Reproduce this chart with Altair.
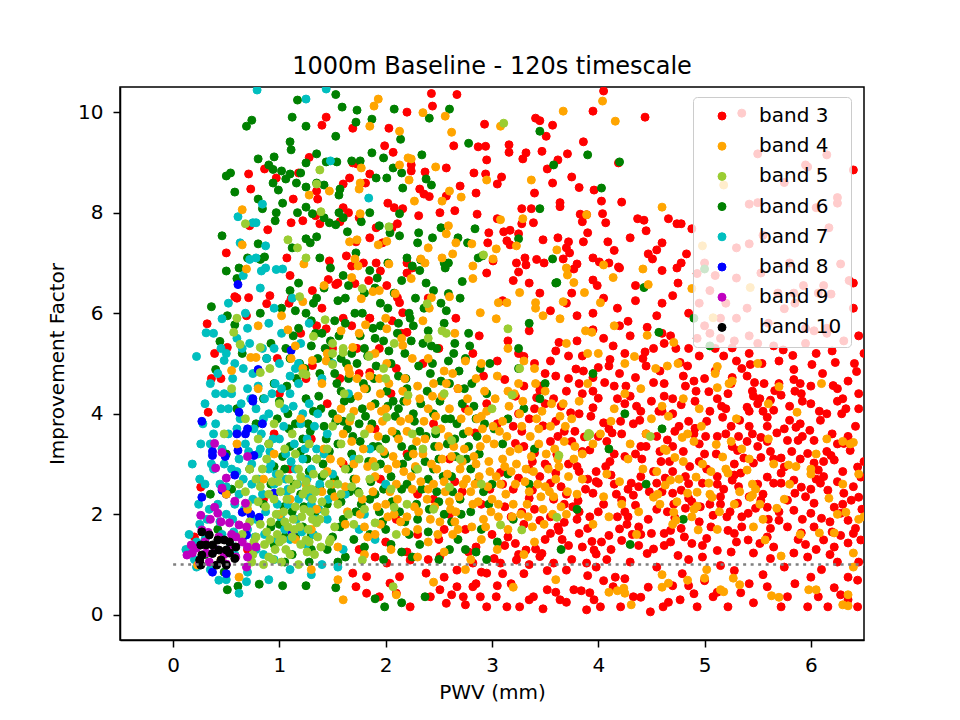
import altair as alt
import pandas as pd

# ---------------- data ----------------
band3 = [
(2.43,10.37),(2.67,10.35),(2.44,10.12),(2.20,10.0),(4.05,10.42),(3.95,10.02),(4.44,9.9),(3.41,9.88),(3.45,9.83),(3.57,9.74),
(2.93,9.76),(3.51,9.52),(3.86,9.41),(2.64,9.33),(2.87,9.31),(2.94,9.32),(2.95,9.05),(3.16,9.35),(3.16,9.2),(3.32,9.19),
(3.29,9.07),(3.47,9.22),(3.71,9.17),(3.62,9.05),(3.52,8.87),(3.75,8.71),(3.57,8.59),(3.82,8.5),(3.96,8.45),(4.19,8.99),
(2.57,8.89),(2.83,8.79),(2.94,8.77),(3.09,8.71),(3.05,8.57),(2.70,8.53),(2.85,8.39),(3.40,8.39),(2.32,8.47),(2.36,8.37),
(2.41,8.32),(2.24,8.95),(2.24,8.83),(2.37,8.81),(2.57,8.33),(2.65,8.04),(2.51,8.0),(3.11,7.62),(3.17,7.65),(3.28,8.08),
(3.37,8.08),(3.64,8.2),(3.64,8.12),(3.83,7.97),(3.85,7.82),(3.89,7.96),(4.03,8.23),(4.04,7.98),(4.07,7.8),(4.22,8.21),
(4.37,7.88),(4.43,7.85),(4.45,7.64),(4.66,7.88),(4.74,7.78),(4.78,7.78),(4.88,7.68),(4.60,7.4),(4.55,7.26),(4.47,7.18),
(4.51,7.08),(4.83,7.18),(4.78,7.0),(4.74,6.9),(4.09,7.42),(3.86,7.42),(3.72,7.42),(3.7,7.3),(3.73,7.2),(3.48,7.46),
(3.62,7.5),(3.80,6.98),(4.01,7.02),(4.1,7.0),(4.19,6.92),(3.95,6.66),(3.99,6.55),(3.77,6.88),(3.67,7.08),(3.49,7.0),
(3.42,7.07),(3.31,7.1),(3.32,6.96),(3.23,7.0),(3.25,6.82),(3.14,7.44),(3.17,7.36),(2.96,7.4),(2.97,7.6),(3.01,7.04),
(2.86,7.97),(3.39,7.8),(3.28,7.78),(3.25,7.58),(3.05,7.88),(2.31,7.94),(2.08,8.1),(2.06,7.7),
(0.71,8.77),(0.73,8.47),(0.50,7.2),(0.32,5.79),(0.39,5.2),(0.36,4.7),(0.6,6.3),(0.89,7.66),(0.71,6.31),(1.1,6.75),
(1.07,7.1),(1.11,7.8),(1.22,7.84),(1.13,8.27),(1.28,9.1),(1.18,8.79),(0.97,8.69),(0.86,8.87),(1.44,9.9),(1.4,9.74),
(1.69,9.68),(2.03,9.68),(1.99,9.33),(2.07,9.2),(1.69,8.99),(1.73,8.97),(1.85,8.77),(1.66,8.69),(1.6,8.57),(1.81,8.59),
(1.35,8.43),(1.36,8.27),(1.38,7.78),(1.34,7.94),(1.57,7.82),(1.6,8.1),(1.65,8.0),(1.75,7.9),(2.02,8.19),(2.16,8.08),
(2.11,7.78),(1.91,7.7),(1.85,7.5),(1.97,7.4),(1.72,7.42),(1.47,7.04),(1.63,7.14),(1.68,6.94),(1.79,7.0),(1.91,7.0),
(1.95,6.84),(2.2,7.0),(2.2,6.8),(2.01,6.55),(2.11,6.31),(1.84,6.65),(1.31,6.45),(1.46,6.67),(1.53,6.57),(1.71,6.59),
(1.11,6.29),(1.09,6.2),(0.88,6.19),(0.91,6.35),(0.58,6.33),(0.69,5.95),(0.51,5.32),(0.72,7.74),(1.35,5.75),(1.44,5.69),
(1.6,5.9),(1.68,5.75),(1.85,5.9),(2.06,5.85),(2.13,6.21),(2.16,6.01),(2.2,5.62),(1.73,5.3),(1.94,5.3),(1.31,4.96),
(1.57,4.7),(1.85,4.82),(2.1,4.9),
(0.33,4.03),(0.26,2.54),(0.2,1.55),(0.45,4.7),(0.85,2.3),(0.98,5.1),(0.7,1.3),
(1.3,3.5),(1.45,4.2),(1.6,3.0),(1.75,4.8),(1.9,3.7),(2.05,4.4),(2.2,3.2),(2.35,5.0),(1.5,5.3),(1.25,4.7),
(1.65,2.5),(1.95,2.7),(2.3,2.4),(2.45,3.8),(2.15,5.6),(1.85,5.9),(1.4,6.1),(2.4,6.3),(2.25,6.9),(1.2,5.6),
(1.0,4.4),(0.95,3.6),(1.1,2.9),(1.55,6.6),
(3.02,1.12),(3.15,1.55),(3.28,2.04),(3.41,1.31),(3.55,2.62),(3.68,1.84),(3.81,2.27),(3.94,1.46),(4.07,2.95),(4.2,1.71),
(4.33,2.38),(4.46,1.22),(4.59,3.05),(4.72,1.93),(4.85,2.61),(4.98,1.38),(5.11,3.2),(5.24,2.05),
(3.08,2.83),(3.22,3.41),(3.35,2.9),(3.48,3.76),(3.61,3.19),(3.74,4.02),(3.87,3.54),(4.0,4.31),(4.13,3.62),(4.26,4.55),
(4.39,3.87),(4.52,4.62),(4.65,3.48),(4.78,4.18),(4.91,3.71),(5.04,4.44),(5.17,3.93),
(2.95,4.2),(3.12,4.68),(3.3,5.14),(3.45,4.47),(3.63,5.42),(3.79,4.89),(3.95,5.67),(4.11,5.08),(4.28,5.84),(4.44,5.23),
(4.6,5.6),(4.77,5.02),(4.93,5.5),(5.1,4.85),(5.26,5.31),
(2.6,3.1),(2.72,2.45),(2.84,3.62),(2.68,4.5),(2.55,1.7),(2.78,1.25),(2.9,0.85),(2.5,5.3),(2.66,5.9),(2.88,5.55),
(3.18,0.62),(3.52,0.88),(3.84,0.48),(4.16,0.75),(4.47,0.55),(4.79,0.82),(5.12,0.45),(2.62,0.4),(3.35,0.3),(3.98,0.95),
(4.66,0.25),(5.0,0.68),
(3.9,2.7),(4.05,2.2),(4.25,3.15),(4.4,2.75),(4.55,2.1),(4.7,2.85),(4.88,2.25),(5.02,2.9),(5.18,2.5),(3.72,3.0),
(3.58,2.3),(3.45,2.75),(4.12,1.3),(4.4,1.6),(4.68,1.45),(4.95,1.85),(3.66,1.5),(3.92,1.95),(4.28,1.95),(4.6,2.45),
(4.8,3.25),(4.45,3.35),(4.15,2.6),(3.85,3.25),(4.0,3.55),(4.33,3.8),(4.7,4.0),(4.95,3.4),(5.2,3.6),(3.3,1.8),
(3.5,1.5),(3.2,2.5),(3.75,1.1),(4.3,1.05),(4.85,1.1),(5.25,1.25),(3.05,3.8),(3.4,4.1),(3.6,3.85),(3.85,4.4),
(4.1,4.95),(4.5,4.25),(4.9,4.65),(5.25,4.6),(3.6,4.75),(3.35,5.65),(3.55,6.05),(3.8,5.95),(4.05,6.3),(4.35,6.55),
(4.6,6.2),(4.85,6.0),(5.15,5.9),(3.1,6.25),(3.35,6.6),(4.2,6.9),(4.75,6.6),(5.05,6.45),(5.3,6.7),(3.75,6.4),(3.95,7.1),
(3.82,1.62),(3.88,2.5),(3.93,3.95),(3.98,2.85),(4.03,1.45),(4.06,4.62),(4.11,3.05),(4.17,2.4),(4.21,3.85),(4.27,1.8),
(4.31,2.62),(4.36,4.15),(4.41,3.1),(4.47,1.9),(4.52,2.85),(4.57,4.05),(4.62,1.62),(4.67,3.05),(4.71,2.2),(4.76,3.75),
(4.81,1.55),(4.86,2.95),(4.91,4.25),(4.96,2.15),(5.01,3.55),(5.06,1.75),(5.12,2.75),(5.16,4.15),(5.21,1.95),(5.26,3.35),
(3.86,4.85),(4.14,5.35),(4.46,5.72),(4.73,5.3),(5.0,5.75),(3.72,5.15),(4.3,5.55),(4.58,4.85),(4.84,4.95),(5.18,5.15),
(3.76,2.15),(3.68,3.65),(3.58,4.3),(3.55,1.95),(3.45,4.55),(3.38,3.05),(3.28,3.65),(3.22,4.35),(3.12,2.15),(3.05,5.05),
(2.98,2.5),(2.92,4.75),(2.82,5.2),(2.75,4.1),(2.65,2.65),
(3.12,1.38),(3.47,1.22),(3.63,1.68),(3.98,1.21),(4.22,1.48),(4.52,1.31),(4.75,1.18),(5.02,1.52),(5.3,1.45),(5.62,1.12),
(5.95,1.4),(6.28,1.58),(4.38,1.75),(4.88,1.42),(3.85,1.35),
(3.18,1.95),(3.4,2.1),(3.62,1.75),(3.7,2.4),(4.0,2.05),(4.18,1.95),(4.35,2.18),(4.5,1.62),(4.65,2.05),(4.82,2.12),
(5.15,2.2),(5.35,1.95),(5.7,1.88),(6.1,1.92),(6.42,1.72),(5.08,1.98),
(3.25,2.72),(3.52,2.95),(3.65,2.55),(3.95,2.42),(4.12,2.78),(4.28,2.5),(4.48,2.45),(4.63,2.72),(4.78,2.48),(4.98,2.62),
(5.15,2.35),(5.32,2.55),(5.55,2.4),(5.72,2.62),(5.95,2.35),(6.12,2.75),(6.4,2.55),(3.82,2.85),
(3.3,3.35),(3.55,3.45),(3.78,3.65),(3.92,3.28),(4.08,3.45),(4.22,3.6),(4.35,3.2),(4.55,3.55),(4.7,3.35),(4.85,3.85),
(5.0,3.2),(5.12,3.55),(5.28,3.0),(5.5,3.35),(5.68,3.62),(5.9,3.1),(6.15,3.25),(6.42,3.75),
(3.25,4.0),(3.5,4.2),(3.7,4.45),(3.95,4.12),(4.18,4.3),(4.4,4.05),(4.62,4.35),(4.82,4.55),(5.05,4.05),(5.22,4.4),
(5.45,4.45),(5.8,4.15),(6.0,4.55),(6.3,4.3),
(3.4,5.0),(3.6,5.25),(3.85,5.15),(4.05,5.5),(4.25,5.2),(4.45,4.95),(4.68,5.55),(4.95,5.15),(5.15,5.5),(3.15,5.45),
(3.95,4.72),(4.35,4.72),
(3.3,0.82),(3.7,0.25),(4.05,0.68),(4.4,0.35),(4.7,0.58),(4.9,0.42),(5.28,0.88),(5.55,0.8),(5.85,0.62),(6.1,0.9),
(2.55,0.75),(2.85,0.62),(3.05,0.58),
(4.3,7.5),(4.15,7.25),(3.9,7.6),(4.6,6.85),(4.35,6.25),(3.95,6.0),(3.7,6.2),(3.45,6.4),(3.2,6.65),(2.95,6.8),
(4.7,6.35),(5.0,7.0),(5.2,6.2),(5.1,6.75),
(3.35,1.0),(3.9,0.78),(4.55,0.95),(5.15,0.98),(5.75,0.95),(6.25,1.05),
(3.22,1.42),(3.72,1.38),(4.1,1.58),(4.62,1.38),(5.12,1.28),(5.52,1.42),(6.05,1.3),(6.45,1.05),
(3.45,1.88),(3.9,1.72),(4.32,1.6),(4.78,1.72),(5.22,1.68),(5.62,1.72),(6.18,1.85),(5.92,1.9),
(3.35,2.32),(3.82,2.05),(4.22,2.28),(4.7,2.42),(5.05,2.2),(5.48,2.12),(5.85,2.42),(6.3,2.2),
(3.1,2.6),(3.6,2.82),(4.0,2.62),(4.38,2.55),(4.82,2.75),(5.28,2.78),(5.72,2.82),(6.25,2.65),
(3.4,3.22),(3.75,3.45),(4.15,3.2),(4.58,3.25),(4.95,3.05),(5.4,3.45),(5.82,3.25),(6.12,3.05),(6.5,3.05),
(3.2,3.75),(3.62,3.55),(4.05,3.82),(4.45,3.6),(4.9,3.6),(5.25,3.75),(5.75,3.7),(6.2,3.6),
(3.42,4.32),(3.82,4.0),(4.25,4.2),(4.7,4.3),(5.12,4.3),(5.55,4.05),(6.0,4.2),(6.45,4.1),
(3.3,4.55),(3.72,4.7),(4.15,4.55),(4.62,4.6),(5.0,4.7),(5.4,4.75),(5.9,4.6),(6.35,4.65),
(3.55,5.05),(4.0,4.92),(4.42,5.1),(4.85,5.3),(5.3,5.05),(5.7,5.05),(6.2,5.25),
(3.8,5.45),(4.2,5.75),(4.62,5.4),(5.05,5.6),(5.5,5.4),(5.95,5.7),
(4.18,6.1),(4.55,5.95),(4.95,6.2),(5.3,5.9),
(3.6,0.45),(4.25,0.72),(4.85,0.58),(5.42,0.62),(6.0,0.75),(6.28,0.4),(3.1,0.82),(2.75,0.2),(3.48,0.12),
(3.25,1.2),(3.55,1.62),(3.8,1.9),(4.08,1.1),(4.38,1.38),(4.68,1.68),(4.98,1.15),(5.28,1.62),(5.6,1.9),(5.88,1.5),
(6.18,1.2),(6.4,1.62),(3.38,2.48),(3.68,2.2),(3.98,2.65),(4.25,2.05),(4.55,2.62),(4.85,2.32),(5.12,2.6),(5.42,2.35),
(5.7,2.05),(6.0,2.5),(6.3,2.85),(3.5,3.0),(3.8,2.95),(4.1,3.7),(4.4,3.35),(4.72,3.65),(5.02,3.85),(5.32,3.55),
(5.62,3.25),(5.92,3.55),(6.25,3.4),(3.35,3.9),(3.65,4.15),(3.95,4.45),(4.3,4.35),(4.6,4.05),(4.92,4.45),(5.2,4.1),
(5.52,4.3),(5.85,4.45),(6.15,4.0),(6.45,4.4),(3.5,4.8),(3.82,4.6),(4.2,4.8),(4.52,5.3),(4.8,4.75),(5.1,5.3),
(5.35,4.9),(5.65,5.35),(6.05,5.2),(3.25,5.2),
(5.42,5.2),(5.43,4.98),(5.54,5.0),(5.74,5.27),(5.83,5.16),(6.01,4.98),(6.11,4.8),(6.23,5.02),(6.41,5.0),(6.43,4.84),
(5.84,4.88),(5.84,4.68),(6.21,4.56),(6.25,4.5),(5.26,4.72),(5.47,4.62),(5.56,4.6),(5.66,4.46),(5.72,4.37),(5.46,4.35),
(5.5,4.2),(5.4,4.13),(5.42,4.05),(5.62,4.27),(5.65,4.07),(5.91,4.4),(5.92,4.25),(6.08,4.05),(6.09,3.87),(6.29,4.0),
(6.33,4.1),(6.25,4.25),(5.8,3.87),(5.86,3.73),(5.59,3.93),(5.59,3.75),(5.33,3.87),(5.42,3.75),(5.53,3.53),(5.59,3.45),
(5.78,3.47),(5.88,3.47),(5.99,3.67),(6.03,3.47),(6.19,3.17),(6.22,3.08),(6.31,3.41),(6.37,3.27),(6.44,2.94),(6.47,2.74),
(5.97,3.21),(6.03,3.02),(6.07,2.88),(5.72,3.12),(5.75,2.94),(5.53,3.13),(5.46,3.02),(5.31,3.27),(5.37,3.12),(5.34,2.82),
(5.26,2.68),(5.59,2.74),(5.65,2.62),(5.84,2.68),(5.91,2.54),(6.09,2.62),(6.16,2.48),(6.31,2.42),(6.38,2.28),(6.45,2.34),
(6.22,2.14),(6.28,2.02),(6.35,1.88),(6.03,2.22),(6.0,2.02),(5.78,2.28),(5.84,2.08),(5.53,2.28),(5.59,2.14),(5.31,2.22),
(5.41,2.02),(5.78,1.75),(5.91,1.63),(6.03,1.75),(5.59,1.55),(5.65,1.35),(6.12,1.49),(6.22,1.35),(6.35,1.43),(6.47,1.49),
(5.84,1.23),(5.97,1.15),(5.41,1.49),(5.46,1.23),
(5.35,1.75),(5.5,2.6),(5.65,3.1),(5.9,3.8),(6.05,2.7),(6.2,1.65),(6.35,3.55),(6.48,2.1),(5.45,3.6),(5.7,4.6),
(5.95,5.4),(6.15,5.6),(6.4,6.1),(6.5,5.2),(5.6,5.8),(5.85,6.2),(5.4,6.1),(5.3,7.3),(5.55,7.55),(5.8,7.0),
(6.05,8.1),(6.25,8.3),(5.75,8.6),(5.95,8.95),(6.15,9.15),(6.4,8.85),(5.5,8.2),
(5.35,9.98),(5.5,9.17),(5.97,8.91),(5.42,8.17),(5.42,7.38),(4.93,6.79),(5.53,6.8),(6.25,8.19),(6.17,7.7),(6.28,6.98),
(6.36,6.65),(6.4,6.6),(5.93,6.55),(5.84,6.4),(5.69,6.4),(6.12,6.55),(6.19,6.38),(6.07,6.4),(5.75,6.09),(6.03,5.65),
(6.15,5.7),(6.31,5.45),(5.28,5.45),(5.42,5.55),(6.45,5.55),
(6.35,0.75),(6.44,0.69),(6.22,0.54),(6.07,0.36),(5.97,0.16),(6.16,0.16),(6.35,0.3),(6.44,0.16),(5.78,0.36),(5.72,0.16),
(5.59,0.56),(5.46,0.24),(5.34,0.44),(5.22,0.16),(5.08,0.36),(4.93,0.16),(4.77,0.3),(4.61,0.16),(4.49,0.06),(4.33,0.36),
(4.21,0.16),(4.02,0.16),(3.92,0.44),(4.14,0.56),
(1.72,0.56),(1.82,0.43),(1.94,0.36),(2.04,0.63),(2.1,0.43),(2.23,0.16),(2.42,0.36),(2.51,0.5),(2.57,0.23),(2.67,0.56),
(2.73,0.36),(2.82,0.56),(2.89,0.36),(2.95,0.16),(3.04,0.36),(3.14,0.16),(3.26,0.16),(3.39,0.36),(3.52,0.5),(3.64,0.3),
(3.77,0.5),(3.89,0.1),(3.96,0.3),
(1.69,0.83),(1.82,0.76),(2.01,1.03),(2.13,0.76),(2.23,1.09),(2.38,0.83),(2.51,1.16),(2.67,0.89),(2.82,1.03),(2.95,0.83),
(3.08,1.03),(3.23,1.09),(3.32,1.29),(3.45,1.16),(3.58,1.03),(3.7,0.89),(3.89,1.03),(3.96,1.29),
(2.5,1.5),(2.6,2.0),(2.75,1.7),(2.9,2.2),(3.0,1.6),(2.45,2.3),(2.85,1.35),(2.4,1.1),(2.3,1.6),(2.2,1.25),
(2.0,1.45),(2.1,1.9),(1.9,1.15),(1.75,1.3),
]

band4 = [
(2.35,9.99),(2.56,9.92),(2.62,9.6),(3.08,9.72),(3.67,10.02),(4.04,10.22),(4.16,9.82),(2.24,9.07),(2.47,8.91),(2.22,8.65),
(2.95,8.65),(3.37,8.65),(2.6,8.43),(2.71,8.31),(2.53,8.23),(2.27,8.23),(4.6,8.11),(3.89,7.96),(3.29,7.88),(3.08,7.86),
(2.59,7.74),(2.57,7.58),(2.4,7.3),(2.66,7.4),(2.81,7.38),(3.04,7.28),(3.23,7.34),(3.61,7.26),(3.7,6.9),(3.71,6.76),
(3.77,6.61),(3.87,6.41),(4.02,6.21),(4.15,5.75),(4.05,6.96),(4.14,6.71),(4.42,6.88),(4.47,6.57),(4.88,6.49),(4.46,5.56),
(4.71,5.42),(3.41,6.21),(3.41,6.1),(3.26,6.41),(3.67,6.23),(3.64,5.89),(3.48,5.95),(3.88,5.65),(3.94,5.62),(3.06,6.21),
(3.14,6.21),(3.04,5.89),(2.89,6.01),(2.82,6.94),(3.01,7.08),(2.82,6.69),(2.33,7.08),(2.37,7.0),(2.53,7.1),(2.63,7.18),
(2.6,6.33),(2.43,6.31),(2.41,6.1),(2.24,6.69),
(1.93,10.26),(1.89,10.12),(1.85,9.72),(2.13,9.62),(2.13,8.95),(2.21,9.09),(1.77,8.89),(1.76,8.59),(1.75,8.47),(1.47,8.43),
(1.28,8.35),(1.76,7.98),(1.66,7.42),(1.73,7.46),(1.93,7.36),(2.01,7.43),(2.03,6.98),(1.71,7.08),(1.74,6.94),(1.68,6.71),
(0.65,8.06),(0.65,7.36),(0.69,6.88),(1.23,6.98),(1.42,6.55),(1.88,6.43),(1.94,6.45),(1.77,6.29),(2.09,6.39),(1.02,5.95),
(1.22,6.23),(0.8,5.75),(1.08,5.67),(1.58,5.65),(1.81,5.77),(2.01,5.69),(0.73,5.12),(0.78,5.12),(0.55,4.86),(1.11,5.1),
(1.22,4.9),(1.15,5.35),(1.31,5.06),(1.45,5.2),(1.44,5.05),(1.69,5.32),(1.85,5.16),(1.94,4.7),(2.01,5.0),(1.66,4.8),
(1.73,4.7),(2.16,5.36),
(1.35,2.1),(1.42,3.3),(1.5,2.6),(1.58,4.1),(1.62,1.8),(1.7,3.0),(1.78,2.3),(1.85,3.7),(1.9,1.6),(1.95,4.4),
(2.02,2.9),(2.08,2.0),(2.12,3.5),(2.18,4.7),(2.25,2.5),(2.3,1.7),(2.35,3.2),(2.4,4.1),(2.46,2.15),(2.52,3.7),
(2.58,2.8),(2.63,1.6),(2.68,4.5),(2.74,3.3),(2.8,2.45),(2.86,3.9),(2.92,1.9),(2.97,3.05),(3.03,4.3),(3.08,2.6),
(3.14,3.55),(3.2,2.2),(3.26,4.0),(3.32,2.9),(3.38,1.75),(3.44,3.4),(3.5,2.55),(3.56,4.2),(3.62,3.1),(3.7,2.0),
(1.55,1.35),(1.8,1.2),(2.05,1.3),(2.3,1.15),(2.55,1.25),(2.8,1.1),(3.05,1.3),(3.3,1.2),
(1.4,4.6),(1.65,4.9),(1.9,5.2),(2.15,5.5),(2.4,5.1),(2.65,5.6),(2.9,5.0),(3.15,5.3),(3.4,4.9),(2.55,4.85),
(2.2,4.25),(1.75,5.6),(2.0,5.9),(2.35,5.85),(2.85,4.7),
(1.45,2.85),(1.6,3.6),(1.72,2.7),(1.88,2.45),(1.98,3.25),(2.1,2.6),(2.22,3.9),(2.28,2.95),(2.45,2.6),(2.5,3.35),
(2.6,2.25),(2.7,2.9),(2.78,3.65),(2.88,2.75),(2.95,3.5),(3.0,2.3),(3.1,3.85),(3.18,2.85),(3.25,3.3),(3.35,2.45),
(3.42,3.9),(3.48,2.1),(3.55,3.75),(3.6,2.7),(3.68,3.45),(1.3,1.7),(1.25,2.6),(1.2,3.9),(1.15,1.5),(1.1,2.3),
(1.0,2.0),(0.95,3.2),(0.85,2.7),(0.8,4.5),(0.7,2.1),(0.6,3.4),(0.5,2.4),(0.45,1.1),(0.23,0.99),(0.62,0.75),
(1.3,0.9),(1.55,0.7),
(1.52,2.35),(1.58,3.05),(1.64,2.05),(1.68,3.45),(1.74,4.35),(1.8,1.75),(1.83,2.95),(1.92,2.15),(1.97,3.85),(2.04,2.45),
(2.07,3.15),(2.14,1.85),(2.17,2.85),(2.2,3.65),(2.27,2.15),(2.33,2.65),(2.37,3.5),(2.42,1.9),(2.48,2.9),(2.53,4.35),
(2.56,2.45),(2.62,3.15),(2.66,2.05),(2.71,3.9),(2.76,2.7),(2.83,3.15),(2.87,2.25),(2.91,3.7),(2.96,2.55),(3.02,3.4),
(3.06,1.95),(3.12,2.95),(3.16,4.15),(3.22,2.6),(3.28,3.75),(3.33,2.2),(3.37,3.15),(3.43,2.6),(3.47,4.05),(3.53,2.9),
(3.58,2.35),(3.64,3.95),(3.72,2.75),(3.78,3.35),(1.95,1.8),(2.4,1.45),(2.65,1.85),(2.9,1.5),(3.15,1.7),(3.4,1.45),
(1.7,4.05),(2.0,4.1),(2.3,4.55),(2.6,4.1),(2.95,4.05),(3.25,4.6),(3.5,4.45),(1.85,4.75),(2.45,4.6),
(1.62,2.55),(1.66,3.85),(1.76,2.0),(1.79,3.3),(1.86,4.15),(1.9,2.75),(1.93,3.55),(2.0,2.2),(2.03,4.6),(2.1,3.0),
(2.14,3.85),(2.19,1.65),(2.24,2.75),(2.29,3.45),(2.32,4.3),(2.39,2.3),(2.43,3.0),(2.47,3.95),(2.51,1.85),(2.55,2.65),
(2.59,3.55),(2.63,4.8),(2.69,2.35),(2.72,3.05),(2.77,4.3),(2.81,1.75),(2.84,2.6),(2.89,3.35),(2.93,4.45),(2.99,2.05),
(3.04,2.75),(3.07,3.65),(3.13,2.4),(3.17,3.25),(3.21,4.4),(3.27,2.0),(3.31,2.65),(3.36,3.55),(3.41,4.6),(3.46,2.35),
(3.51,3.2),(3.57,2.0),(3.63,2.95),(3.67,4.2),(3.71,2.45),(3.77,3.1),(2.25,5.1),(2.75,5.05),(3.05,4.75),(3.3,5.05),
(1.8,4.5),(1.55,3.9),(1.48,3.1),(1.4,2.45),
(1.83,1.55),(1.88,3.05),(1.96,4.05),(2.02,1.95),(2.06,3.65),(2.11,2.3),(2.16,4.45),(2.2,1.95),(2.26,3.2),(2.31,2.05),
(2.36,3.85),(2.4,2.5),(2.44,4.35),(2.49,1.6),(2.53,3.1),(2.57,4.6),(2.61,2.1),(2.64,3.35),(2.68,1.7),(2.73,2.6),
(2.78,4.05),(2.82,2.2),(2.85,3.0),(2.9,3.95),(2.94,1.75),(2.98,2.85),(3.01,3.75),(3.06,2.2),(3.1,3.1),(3.15,4.45),
(3.19,1.95),(3.23,3.0),(3.29,4.25),(3.34,1.95),(3.39,2.85),(3.44,3.7),(3.49,1.8),(3.54,2.45),(3.59,3.3),(3.65,2.15),
(3.69,3.75),
(3.85,2.7),(3.95,3.4),(4.05,2.35),(4.12,3.85),(4.2,2.65),(4.28,3.1),(4.38,2.05),(4.45,3.6),(4.55,2.85),(4.66,3.95),
(4.74,2.25),(4.8,3.05),(4.88,1.95),(4.97,3.75),(5.06,2.85),(5.14,2.05),(5.25,3.45),(5.33,2.45),(5.42,3.1),(5.52,2.2),
(5.6,3.5),(5.8,2.6),(6.05,3.2),(6.25,2.0),(6.45,2.8),(4.25,4.4),(4.6,4.15),(4.95,4.1),(3.82,4.25),(4.1,1.95),
(3.75,3.9),(3.8,2.4),(3.85,3.2),(3.9,4.6),(3.95,1.8),(4.02,3.6),(4.08,2.8),(4.15,4.1),(4.22,2.2),(4.3,3.4),
(4.36,1.6),(4.42,2.9),(4.5,3.9),(4.56,2.4),(4.62,3.3),(4.7,1.8),(4.76,2.7),(4.84,3.6),(4.9,2.1),(4.98,3.0),
(5.05,2.4),(5.12,1.7),(5.2,2.9),(5.28,2.2),(5.35,3.3),(5.45,2.6),(5.55,1.9),(5.65,3.0),(5.75,2.3),(5.9,1.6),
(6.0,2.8),(6.15,3.5),(6.3,2.6),(6.45,1.9),(6.4,0.95),(4.4,4.5),(4.8,4.3),(5.1,4.8),(5.3,3.9),(5.6,4.2),
(5.5,5.0),(6.1,4.6),(6.35,0.4),(6.3,0.2),(5.7,0.35),(5.15,0.5),(4.6,0.8),(4.1,0.45),(3.6,0.7),(3.2,0.55),
(2.75,0.9),(2.45,0.65),(2.1,0.4),(1.6,0.3),(3.9,5.2),(4.25,5.0),(4.65,4.95),(3.7,5.4),(6.5,1.95),(6.05,0.5),
(4.0,5.2),(4.34,5.14),(4.54,4.9),(4.75,5.0),(5.12,4.94),(5.23,4.6),(5.26,4.65),(5.12,4.52),(5.7,4.54),(5.87,4.03),
(6.3,3.45),(6.37,3.4),(6.4,3.43),(6.0,2.9),(5.79,2.98),(5.86,2.95),(6.17,2.32),(6.33,2.04),(6.22,1.63),(6.08,1.63),
(6.4,1.23),(5.68,2.12),(5.72,1.17),(5.98,0.5),(6.35,0.18),(5.63,0.38),(5.45,2.38),(5.46,1.75),(5.57,1.49),(5.18,0.46),
(5.27,0.73),(5.33,0.6),(5.0,0.73),(5.02,0.9),(4.84,0.69),(4.66,0.63),(4.6,0.55),(4.24,0.53),(4.25,0.43),(4.18,0.48),
(4.31,0.2),(4.94,1.69),(5.43,2.34),(5.48,2.5),(5.4,2.88),(5.22,2.82),(5.04,2.62),(5.07,2.34),(4.93,2.16),(4.71,2.04),
(4.73,1.88),(5.17,3.14),(4.92,2.74),(4.93,2.44),(5.11,3.39),(4.9,3.45),(4.79,3.53),(4.64,3.27),(4.72,3.13),(4.68,2.68),
(4.63,2.58),(4.52,2.34),(4.58,2.2),(4.84,2.42),
(5.18,8.55),(4.98,7.34),(5.43,6.51),(5.08,5.91),
]

band5 = [
(1.38,8.85),(1.35,8.57),(1.39,8.02),(2.03,7.72),(1.08,7.46),(1.17,7.3),(1.25,7.1),(0.68,7.78),(1.78,6.49),(1.19,6.33),
(1.43,5.87),(0.57,5.62),(0.63,5.38),(0.82,5.32),(0.91,4.9),(1.25,4.78),(1.6,5.22),(1.32,5.54),(1.5,4.98),(1.84,5.14),
(2.0,4.7),(2.08,5.4),(0.82,4.82),
(3.11,9.78),(2.92,7.16),(2.53,5.65),(2.57,5.6),(2.39,6.19),(3.15,5.69),(3.92,3.59),(3.9,3.55),(4.49,3.55),
(3.26,4.9),(3.19,4.37),(3.63,3.17),(3.91,3.61),(3.61,1.94),(3.28,1.69),(3.08,1.79),(2.6,2.54),(2.62,3.47),(2.47,3.67),
(2.21,4.37),(2.01,3.93),(2.08,2.14),(1.9,1.83),(2.07,0.56),(1.75,2.42),(1.78,1.09),(1.5,5.4),(1.6,5.3),(1.5,5.2),
(1.61,4.4),(1.67,3.93),(1.5,3.75),(1.58,3.4),(1.25,2.48),(1.31,2.3),(1.35,1.83),(1.47,1.45),(1.25,1.49),(1.22,4.8),
(0.65,1.6),(0.7,2.2),(0.75,1.2),(0.78,2.7),(0.82,1.8),(0.86,1.4),(0.9,2.4),(0.94,1.1),(0.97,2.0),(1.0,2.8),
(1.03,1.5),(1.07,2.3),(1.1,1.2),(1.13,1.9),(1.16,2.6),(1.2,1.4),(1.23,2.1),(1.27,1.7),(1.3,2.5),(1.33,1.2),
(0.72,2.9),(0.88,3.1),(1.05,3.3),(0.8,3.5),(0.95,3.8),(1.12,3.6),(0.68,3.9),(1.0,4.2),(0.85,1.0),(1.18,1.0),
(0.62,2.6),(1.38,1.9),(1.42,2.8),(1.48,1.5),(0.98,1.6),(0.92,1.85),(1.08,1.75),(0.76,1.45),(1.2,2.75),(1.35,3.1),
(1.55,2.2),(1.62,2.9),(1.7,1.8),(1.85,2.7),(1.95,3.3),(2.1,1.6),(2.3,2.9),(2.45,2.1),(2.7,3.1),(2.9,2.6),
(1.8,3.6),(2.25,3.6),(2.55,4.4),(1.98,4.9),(2.4,5.5),(3.0,4.1),(0.55,4.5),(0.48,3.6),(0.6,5.9),
(0.72,1.85),(0.8,2.25),(0.84,2.9),(0.88,1.65),(0.93,2.65),(0.96,1.3),(1.01,2.45),(1.05,1.85),(1.09,2.7),(1.12,1.55),
(1.15,2.15),(1.19,1.75),(1.22,2.4),(1.26,1.25),(1.29,2.05),(1.32,2.8),(1.36,1.55),(1.4,2.25),(0.68,2.45),(0.74,1.05),
(1.02,1.05),(0.9,3.4),(1.15,3.2),(1.28,3.4),(1.45,3.3),(1.55,2.6),(1.65,2.0),(1.75,3.1),
(0.78,1.55),(0.82,2.55),(0.87,2.15),(0.91,1.5),(0.95,2.3),(0.99,2.65),(1.04,2.05),(1.06,1.3),(1.11,2.5),(1.14,1.7),
(1.18,2.9),(1.21,1.95),(1.25,2.65),(1.28,1.45),(1.31,1.9),(1.34,2.45),(1.39,1.35),(1.43,2.05),(1.47,2.6),(1.52,1.75),
(1.58,2.4),(1.68,2.55),(1.8,2.1),(1.9,2.95),(2.05,2.5),(2.2,2.2),(2.35,3.3),(0.9,1.15),(1.0,1.45),
]

band6 = [
(1.17,10.24),(1.53,10.35),(1.59,10.1),(1.73,10.04),(2.08,10.06),(1.87,9.86),(1.72,9.8),(1.25,9.72),(1.12,9.9),(0.74,9.84),
(0.69,9.72),(1.53,9.52),(1.1,9.41),(1.11,9.25),(2.14,9.46),(0.8,9.07),(0.95,9.11),(0.9,8.95),(0.94,8.86),(1.02,8.83),
(1.1,8.77),(1.06,8.67),(1.2,8.79),(1.25,8.99),(1.35,9.17),(1.44,9.01),(1.54,9.01),(1.68,9.03),(1.76,9.03),(1.87,9.19),
(1.98,9.09),(2.07,8.89),(2.15,8.79),(0.5,8.73),(0.54,8.79),(0.58,8.41),(0.8,8.27),(0.94,8.59),(0.99,8.45),(1.16,8.59),
(1.25,8.51),(1.35,8.59),(1.42,8.55),(1.57,8.47),(1.56,8.35),(1.91,8.69),(2.01,8.69),(2.16,8.49),(1.03,8.19),(0.84,8.08),
(0.97,8.0),(1.17,8.0),(1.25,8.11),(1.31,7.98),(1.42,7.9),(1.56,8.0),(1.6,7.9),(1.85,8.0),(1.77,7.82),(1.94,7.74),
(2.13,7.98),(0.46,7.54),(0.96,7.84),(0.8,7.38),(1.25,7.48),(1.29,7.4),(1.35,7.52),(1.47,7.8),(1.53,7.76),(1.64,7.62),
(2.04,7.6),(2.13,7.54),(0.5,6.84),(0.62,6.9),(0.7,7.1),(0.82,7.07),(0.86,7.12),(0.6,6.69),(0.36,6.13),(0.51,5.95),
(0.58,5.77),(0.44,5.44),(0.4,4.88),
(2.41,9.88),(2.6,10.06),(3.45,9.62),(2.78,9.38),(2.34,9.15),(3.9,9.15),(3.58,8.95),(4.2,9.01),(4.03,8.49),(3.45,8.08),
(2.38,8.67),(2.43,8.55),(2.84,7.68),(2.68,7.5),(2.77,7.4),(2.52,7.7),(2.31,7.6),(2.44,7.5),(2.2,7.1),(2.25,6.94),
(2.33,7.06),(2.59,7.0),(2.56,6.9),(3.57,7.08),(2.91,7.14),(2.87,7.1),(2.72,6.63),(2.59,6.39),(4.43,6.51),(4.57,5.62),
(3.61,6.61),(3.25,7.48),
(0.85,2.2),(0.9,3.4),(0.95,4.6),(1.0,1.8),(1.05,2.9),(1.1,5.1),(1.15,3.8),(1.2,2.4),(1.25,4.3),(1.3,1.6),
(1.35,3.1),(1.4,5.6),(1.45,2.2),(1.5,4.0),(1.55,3.4),(1.6,1.9),(1.65,4.7),(1.7,2.7),(1.75,3.8),(1.8,5.3),
(1.85,2.3),(1.9,4.2),(1.95,3.0),(2.0,1.7),(2.05,5.0),(2.1,3.6),(2.15,2.5),(2.2,4.5),(2.25,3.3),(2.3,1.9),
(2.35,5.4),(2.4,2.7),(2.45,4.0),(2.5,3.1),(2.55,2.0),(2.6,4.6),(2.65,3.5),(2.7,2.3),(2.75,5.1),(2.8,2.9),
(2.85,3.9),(2.9,1.7),(2.95,4.4),(3.0,2.6),(3.1,3.4),(3.2,1.9),(3.3,4.1),
(1.02,6.1),(1.18,6.6),(1.32,6.2),(1.48,6.9),(1.62,6.3),(1.78,6.0),(1.92,6.7),(2.08,6.4),(2.22,6.0),(2.38,6.6),
(2.55,5.8),(2.7,6.3),(1.12,7.3),(1.38,7.1),(1.72,7.2),(2.02,7.0),(2.3,7.4),(2.55,7.0),
(0.95,1.4),(1.12,1.2),(1.28,1.05),(1.45,1.3),(1.62,1.15),(1.8,1.35),(1.98,1.1),(2.15,1.25),(2.32,1.4),(2.5,1.1),
(2.68,1.5),(2.85,1.25),(3.05,1.45),
(1.08,4.0),(1.22,3.5),(1.38,4.8),(1.52,2.7),(1.68,3.2),(1.82,4.5),(1.98,2.5),(2.12,4.1),(2.28,2.9),(2.42,4.8),
(2.58,3.4),(2.72,4.2),(2.88,3.2),(3.02,3.7),(3.15,2.8),(3.25,4.9),(3.4,3.3),(1.58,5.1),(1.88,5.7),(2.18,5.2),
(2.48,5.3),(2.78,5.6),(0.78,3.8),(0.72,2.9),(0.65,5.2),(0.6,4.1),(0.55,2.5),(0.82,6.0),(0.5,3.2),(0.42,1.7),
(0.35,2.4),(0.3,1.2),(0.48,0.85),(0.51,0.5),(0.61,0.57),(0.81,0.61),(1.03,0.58),(1.25,0.58),(1.53,0.54),(1.99,0.16),
(2.15,0.24),(1.9,0.32),(2.37,0.36),
(1.12,2.05),(1.28,2.85),(1.42,3.75),(1.58,4.45),(1.72,2.05),(1.88,3.35),(2.02,4.15),(2.18,1.85),(2.32,3.65),(2.48,2.45),
(2.62,2.75),(2.78,3.35),(1.36,5.1),(1.62,5.8),(1.98,5.45),(2.26,5.75),(0.92,5.4),(1.18,5.7),(1.65,6.55),(1.85,6.85),
(0.92,2.6),(0.98,3.9),(1.04,2.15),(1.1,3.35),(1.16,4.7),(1.22,1.75),(1.26,3.1),(1.32,4.05),(1.38,2.55),(1.44,3.5),
(1.5,1.55),(1.54,4.6),(1.58,2.25),(1.64,3.7),(1.68,5.2),(1.74,2.45),(1.78,4.1),(1.84,3.05),(1.9,5.5),(1.94,2.05),
(2.0,3.5),(2.06,2.25),(2.12,4.75),(2.16,3.0),(2.22,1.6),(2.26,4.0),(2.34,2.5),(2.38,3.55),(2.44,5.0),(2.5,2.25),
(2.56,3.9),(2.62,1.85),(2.66,3.15),(2.74,4.5),(2.8,2.05),(2.86,3.55),(2.92,2.45),(2.98,5.0),(1.06,5.3),(1.3,5.35),
(1.52,5.85),(1.76,5.55),(2.02,6.1),(2.28,6.3),(2.52,6.2),(1.25,6.0),(1.42,6.5),(0.88,5.1),(0.85,4.3),(0.92,1.75),
(1.15,1.55),(1.55,1.05),(1.85,1.6),(2.25,1.15),(2.6,1.3),(2.95,1.1),(3.15,3.9),(3.35,2.6),(3.45,4.3),(3.25,5.3),
(0.95,2.95),(1.0,4.25),(1.05,1.55),(1.09,3.7),(1.14,2.6),(1.19,5.0),(1.23,2.15),(1.27,3.8),(1.33,2.0),(1.37,4.35),
(1.41,3.0),(1.46,5.1),(1.49,2.45),(1.53,3.85),(1.57,1.75),(1.61,4.25),(1.66,2.45),(1.69,3.55),(1.73,5.0),(1.77,2.2),
(1.81,3.95),(1.86,2.65),(1.89,4.7),(1.93,3.35),(1.97,1.85),(2.01,4.45),(2.05,2.75),(2.09,3.95),(2.13,2.05),(2.17,4.25),
(2.21,3.15),(2.24,5.45),(2.29,2.2),(2.33,4.2),(2.37,3.05),(2.41,2.1),(2.46,3.35),(2.51,4.25),(2.54,2.75),(2.59,5.05),
(2.63,2.45),(2.67,3.8),(2.71,2.0),(2.76,3.1),(2.81,4.6),(2.87,2.65),(2.93,3.8),(2.97,2.2),(1.3,5.85),(1.55,6.25),
(1.8,6.4),(2.12,5.8),(2.4,5.65),(2.65,5.4),(1.15,6.05),(1.48,5.45),(1.95,6.2),(2.32,6.85),(2.05,1.4),(2.4,1.65),
(2.75,1.3),(1.7,1.5),(1.3,1.3),(1.05,1.05),
(1.03,3.15),(1.07,4.55),(1.13,5.55),(1.2,3.25),(1.24,4.9),(1.29,3.65),(1.34,5.6),(1.39,4.1),(1.43,5.3),(1.47,3.25),
(1.52,4.8),(1.56,5.55),(1.6,3.85),(1.63,5.0),(1.67,4.3),(1.71,6.0),(1.76,3.45),(1.79,4.6),(1.83,5.15),(1.87,3.8),
(1.91,4.95),(1.95,5.75),(1.99,3.2),(2.03,5.25),(2.07,4.25),(2.11,5.6),(2.15,3.35),(2.19,4.7),(2.23,5.9),(2.27,3.85),
(2.31,4.95),(2.36,6.1),(2.39,4.45),(2.43,5.35),(2.47,3.6),(2.52,4.65),(2.57,6.05),(2.61,3.9),(2.64,5.2),(2.69,4.85),
(2.73,3.6),(2.79,5.35),(2.83,4.15),(2.89,4.9),(1.35,6.3),(1.6,6.75),(1.9,6.5),(2.15,6.65),(2.45,6.45),(1.1,6.45),
(1.4,2.75),(1.65,2.9),(1.9,2.4),(2.2,2.6),(2.45,2.9),
(3.5,4.6),(3.8,2.1),(4.1,3.3),(4.3,1.4),(4.45,2.6),(3.95,4.8),(4.6,3.7),(3.65,1.3),(4.8,1.9),(5.05,5.35),
(4.25,4.0),(3.35,5.8),(3.6,6.6),(4.9,5.9),(5.0,6.88),
]

band7 = [
(0.79,10.44),(1.44,10.46),(1.25,10.26),(1.48,9.03),(1.84,8.29),(0.84,8.17),(0.61,7.92),(0.75,7.8),(0.78,7.8),(0.63,7.4),
(0.87,7.34),(0.78,7.1),(0.72,7.07),(1.03,6.88),(0.97,6.87),(0.83,6.84),(0.87,6.9),(0.66,6.75),(0.46,5.89),(0.31,5.61),
(0.22,5.14),(0.48,5.06),
(0.2,1.1),(0.25,1.8),(0.3,2.6),(0.35,3.4),(0.4,1.3),(0.45,4.1),(0.5,2.0),(0.55,2.9),(0.6,3.7),(0.65,1.5),
(0.7,4.5),(0.75,2.3),(0.8,3.2),(0.85,1.2),(0.9,4.0),(0.95,2.6),(1.0,3.5),(1.05,1.7),(1.1,4.4),(1.15,2.9),
(1.2,3.8),(1.25,1.4),(1.3,2.2),(1.35,3.3),(1.4,4.7),(1.45,1.9),(1.5,2.8),(1.55,3.9),(1.6,1.3),(0.58,5.0),
(0.72,5.4),(0.88,5.1),(1.02,5.6),(1.18,5.0),(0.42,4.8),(0.3,4.2),(0.18,3.0),(0.15,1.6),(0.38,5.6),(0.52,6.2),
(0.68,6.0),(0.82,6.5),(0.95,6.1),(1.12,6.3),(1.28,5.8),(0.62,2.4),(0.78,1.9),(0.92,3.0),(1.08,2.5),(1.22,3.1),
(0.48,3.0),(0.68,3.4),(0.85,3.9),(1.05,4.1),(0.55,4.4),(0.75,4.8),(1.28,4.2),(1.45,3.6),(1.62,2.4),(1.7,3.1),
(0.35,0.9),(0.5,0.7),(0.7,0.85),(0.9,0.7),(1.1,0.9),(1.3,0.8),(0.43,0.69),(0.69,0.66),(0.62,0.43),(0.12,1.3),
(0.22,0.95),(1.4,1.0),(1.55,0.95),(0.95,1.1),(0.78,1.3),(0.58,1.2),(0.3,1.5),(1.8,2.0),(1.9,1.5),(2.0,2.6),
(0.42,2.2),(0.52,3.6),(0.64,4.2),(0.74,3.0),(0.84,2.4),(0.96,4.6),(1.06,3.2),(1.16,1.9),(1.26,2.7),(1.36,4.0),
(0.46,1.6),(0.56,1.9),(0.66,2.7),(0.76,3.7),(0.86,4.3),(0.98,1.5),(1.08,2.2),(1.18,4.6),(1.32,1.6),(1.46,2.3),
(0.28,3.8),(0.38,2.9),(0.24,2.2),(0.6,5.5),(0.9,5.8),(1.2,5.4),(1.5,5.0),(1.65,4.4),(1.75,1.7),(1.85,3.3),
(0.32,1.9),(0.36,3.0),(0.4,3.8),(0.44,2.6),(0.48,4.4),(0.54,1.4),(0.58,2.2),(0.62,3.1),(0.66,4.9),(0.7,1.7),
(0.74,2.6),(0.78,4.1),(0.82,3.3),(0.86,1.6),(0.9,2.9),(0.94,3.5),(0.98,2.2),(1.02,4.5),(1.06,2.7),(1.1,1.5),
(1.14,3.4),(1.18,2.3),(1.22,4.0),(1.26,3.5),(1.3,2.9),(1.34,1.9),(1.38,2.6),(1.42,3.2),(0.5,5.2),(0.7,5.7),
(0.84,5.3),(1.0,5.0),(1.15,4.9),(0.56,4.7),(0.4,4.4),(0.26,3.4),
(0.34,2.1),(0.38,3.6),(0.44,1.85),(0.46,3.3),(0.5,2.55),(0.52,4.1),(0.57,1.65),(0.6,2.85),(0.63,3.9),(0.67,2.1),
(0.71,3.25),(0.73,4.3),(0.77,1.55),(0.8,2.7),(0.83,3.6),(0.87,2.05),(0.91,3.25),(0.93,4.4),(0.97,2.8),(1.01,1.95),
(1.04,3.75),(1.07,2.45),(1.11,3.05),(1.13,4.15),(1.17,2.6),(1.21,1.65),(1.24,3.3),(1.28,2.35),(1.33,3.75),(1.37,2.1),
(0.45,5.3),(0.65,5.3),(0.8,4.55),(0.95,5.3),(1.1,4.75),(0.35,4.6),(0.25,2.7),(0.22,1.45),
]

band8 = [
(0.27,3.85),(0.75,4.3),(0.62,4.03),(0.7,3.7),(0.6,3.6),(0.68,3.6),(0.84,3.8),(0.61,3.27),(0.76,3.17),(0.37,3.17),
(0.58,2.78),(0.27,2.34),(0.46,2.48),(0.5,2.4),(0.65,2.04),(0.73,2.0),(0.95,2.42),(0.81,1.94),(1.12,1.63),(0.69,1.59),
(0.37,0.85),(0.5,0.82),(0.61,6.57),(1.11,5.26),(0.8,4.88),(0.37,3.25),(0.49,3.15),(0.75,4.25),
]

band9 = [
(0.39,3.41),(0.4,2.92),(0.46,3.23),(0.7,3.15),(0.5,2.72),(0.46,2.52),(0.58,2.26),(0.68,2.22),(0.39,2.14),(0.42,2.02),
(0.26,1.98),(0.53,1.83),(0.62,1.79),(0.69,1.75),(0.27,1.69),(0.33,1.64),(0.17,1.39),(0.22,1.33),(0.18,1.23),(0.31,1.23),
(0.43,1.55),(0.59,1.55),(0.65,1.45),(0.55,1.35),(0.7,1.35),(0.59,1.15),(0.7,1.15),(0.34,1.05),(0.5,1.01),(0.25,1.03),
(0.13,1.19),(0.69,0.95),(0.78,1.35),(0.45,1.85),(0.35,1.9),(0.3,1.45),(0.48,1.2),(0.55,1.6),(0.4,1.3),
]

band10 = [
(0.27,1.65),(0.34,1.59),(0.42,1.49),(0.48,1.49),(0.53,1.45),(0.37,1.39),(0.31,1.39),(0.26,1.39),(0.43,1.29),(0.5,1.29),
(0.27,1.19),(0.37,1.22),(0.53,1.23),(0.45,1.09),(0.25,1.09),(0.41,0.99),(0.5,0.99),(0.26,0.99),(0.59,1.35),(0.58,1.12),
]

band_names = ["band 3", "band 4", "band 5", "band 6", "band 7", "band 8", "band 9", "band 10"]

ref_x_start = [0.0]
ref_x_end = [6.5]
ref_y = [1.0]

x_ticks = [0, 1, 2, 3, 4, 5, 6]
y_ticks = [0, 2, 4, 6, 8, 10]

# ---------------- styles ----------------
colors = ["#ff0000", "#ffa500", "#9acd32", "#008000", "#00bfbf", "#0000ff", "#bf00bf", "#000000"]
alphas = [1, 1, 1, 0.6, 0.6, 1, 1, 1]
FONT = "DejaVu Sans"

# draw order (bottom -> top)
draw_order = [("band 3", band3), ("band 6", band6), ("band 7", band7), ("band 8", band8),
              ("band 4", band4), ("band 5", band5), ("band 9", band9), ("band 10", band10)]
rows = []
for name, pts in draw_order:
    for px, py in pts:
        rows.append({"pwv": px, "imp": py, "band": name})
df = pd.DataFrame(rows)

rule_df = pd.DataFrame({"pwv": ref_x_start, "pwv2": ref_x_end, "imp": ref_y})

xscale = alt.Scale(domain=[-0.5, 6.5], nice=False, zero=False)
yscale = alt.Scale(domain=[-0.5, 10.5], nice=False, zero=False)
xaxis = alt.Axis(values=x_ticks, title="PWV (mm)")
yaxis = alt.Axis(values=y_ticks, title="Improvement Factor")

legend = alt.Legend(
    title=None, orient="none", legendX=573, legendY=10,
    labelFontSize=20, labelFont=FONT, labelColor="black",
    symbolType="circle", symbolSize=64, symbolStrokeWidth=1,
    fillColor="rgba(255,255,255,0.8)", strokeColor="#cccccc", cornerRadius=4,
    padding=9, rowPadding=10.2, labelOffset=27, symbolOffset=10,
)

cscale = alt.Scale(domain=band_names, range=colors)
oscale = alt.Scale(domain=band_names, range=alphas)

points = alt.Chart(df).mark_point(filled=True, size=64, strokeWidth=1, opacity=1, clip=True).encode(
    x=alt.X("pwv:Q", scale=xscale, axis=xaxis),
    y=alt.Y("imp:Q", scale=yscale, axis=yaxis),
    color=alt.Color("band:N", scale=cscale, legend=legend),
    stroke=alt.Stroke("band:N", scale=cscale, legend=legend),
    fillOpacity=alt.FillOpacity("band:N", scale=oscale, legend=legend),
    strokeOpacity=alt.StrokeOpacity("band:N", scale=oscale, legend=legend),
)

rule = alt.Chart(rule_df).mark_rule(color="#808080", strokeWidth=2.5, strokeDash=[3, 4.5], clip=True).encode(
    x=alt.X("pwv:Q", scale=xscale, axis=xaxis),
    x2="pwv2:Q",
    y=alt.Y("imp:Q", scale=yscale, axis=yaxis),
)

chart = alt.layer(points, rule).properties(
    width=744, height=553,
    title=alt.TitleParams("1000m Baseline - 120s timescale"),
    autosize=alt.AutoSizeParams(type="none"),
    padding={"left": 112, "top": 79, "right": 88, "bottom": 72},
).configure(font=FONT).configure_axis(
    grid=False, domainColor="black", domainWidth=1.5, tickColor="black", tickWidth=1.5, tickSize=7,
    labelFontSize=20, labelColor="black", labelFont=FONT, titleFontSize=20, titleColor="black",
    titleFont=FONT, titleFontWeight="normal", labelPadding=8,
).configure_axisY(labelPadding=10, titlePadding=10).configure_axisX(titlePadding=7).configure_title(
    fontSize=24, font=FONT, fontWeight="normal", color="black", offset=8, anchor="middle"
).configure_view(stroke="black", strokeWidth=1.5)

chart.save("out.html", embed_options={"renderer": "svg", "actions": False})
